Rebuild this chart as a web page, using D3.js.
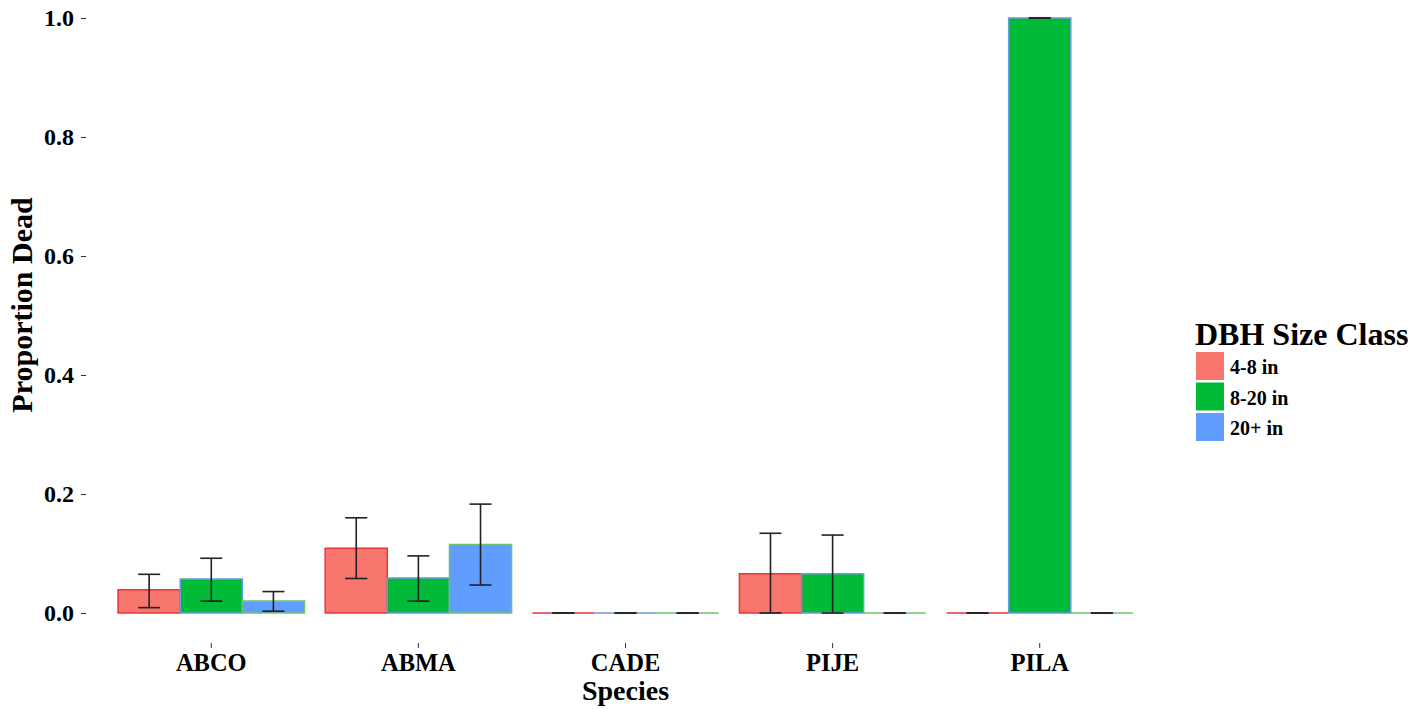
<!DOCTYPE html>
<html>
<head>
<meta charset="utf-8">
<script src="https://cdn.jsdelivr.net/npm/d3@7"></script>
<style>
  html, body { margin: 0; padding: 0; background: #fff; }
  svg { display: block; font-family: "Liberation Serif", "Times New Roman", serif; font-weight: bold; }
</style>
</head>
<body>
<svg id="chart" width="1419" height="709"></svg>
<script>
// ---- data ----
const species = ["ABCO", "ABMA", "CADE", "PIJE", "PILA"];
const sizeClasses = ["4-8 in", "8-20 in", "20+ in"];
const fillColors = ["#F8766D", "#00BA38", "#619CFF"];
const outlineColors = ["#E4373C", "#6B9BE0", "#6CC46F"];
// proportion dead, per size class, in species order
const mean4to8  = [0.039, 0.109, 0.0, 0.066, 0.0];
const mean8to20 = [0.057, 0.059, 0.0, 0.066, 1.0];
const mean20up  = [0.020, 0.115, 0.0, 0.0, 0.0];
const lo4to8  = [0.009, 0.058, 0.0, 0.0, 0.0];
const hi4to8  = [0.065, 0.160, 0.0, 0.134, 0.0];
const lo8to20 = [0.020, 0.020, 0.0, 0.0, 1.0];
const hi8to20 = [0.092, 0.096, 0.0, 0.131, 1.0];
const lo20up  = [0.003, 0.047, 0.0, 0.0, 0.0];
const hi20up  = [0.036, 0.183, 0.0, 0.0, 0.0];
const yTicks = [0.0, 0.2, 0.4, 0.6, 0.8, 1.0];

const means = [mean4to8, mean8to20, mean20up];
const los = [lo4to8, lo8to20, lo20up];
const his = [hi4to8, hi8to20, hi20up];

const rows = [];
species.forEach((sp, i) => {
  sizeClasses.forEach((sc, j) => {
    rows.push({ sp, sc, j, v: means[j][i], lo: los[j][i], hi: his[j][i] });
  });
});

const svg = d3.select("#chart");

const x = d3.scaleBand().domain(species).range([87, 1164])
  .paddingInner(0.1).paddingOuter(0.15);
const xs = d3.scaleBand().domain(sizeClasses).range([0, x.bandwidth()]);
const y = d3.scaleLinear().domain([0, 1]).range([613, 18]);

// bars
const g = svg.append("g");
g.selectAll("rect.bar").data(rows).join("rect")
  .attr("class", "bar")
  .attr("x", d => x(d.sp) + xs(d.sc))
  .attr("y", d => y(d.v))
  .attr("width", xs.bandwidth())
  .attr("height", d => y(0) - y(d.v))
  .attr("fill", d => fillColors[d.j]);
g.selectAll("path.outline").data(rows).join("path")
  .attr("class", "outline")
  .attr("d", d => {
    const x0 = x(d.sp) + xs(d.sc), x1 = x0 + xs.bandwidth();
    const y0 = y(0), y1 = y(d.v);
    return `M${x0},${y0}V${y1}H${x1}V${y0}H${x0}Z`;
  })
  .attr("fill", "none")
  .attr("stroke", d => outlineColors[d.j])
  .attr("stroke-width", 1.5);

// error bars
const capW = 22;
const eb = g.selectAll("g.err").data(rows).join("g").attr("class", "err")
  .attr("stroke", "#222").attr("stroke-width", 1.6);
eb.append("line")
  .attr("x1", d => x(d.sp) + xs(d.sc) + xs.bandwidth() / 2)
  .attr("x2", d => x(d.sp) + xs(d.sc) + xs.bandwidth() / 2)
  .attr("y1", d => y(d.lo)).attr("y2", d => y(d.hi));
eb.append("line")
  .attr("x1", d => x(d.sp) + xs(d.sc) + xs.bandwidth() / 2 - capW / 2)
  .attr("x2", d => x(d.sp) + xs(d.sc) + xs.bandwidth() / 2 + capW / 2)
  .attr("y1", d => y(d.hi)).attr("y2", d => y(d.hi));
eb.append("line")
  .attr("x1", d => x(d.sp) + xs(d.sc) + xs.bandwidth() / 2 - capW / 2)
  .attr("x2", d => x(d.sp) + xs(d.sc) + xs.bandwidth() / 2 + capW / 2)
  .attr("y1", d => y(d.lo)).attr("y2", d => y(d.lo));

// y axis
const yAxis = d3.axisLeft(y).tickValues(yTicks).tickFormat(d3.format(".1f"))
  .tickSize(5).tickPadding(7);
const ya = svg.append("g").attr("transform", "translate(86,0)").call(yAxis);
ya.select(".domain").remove();
ya.selectAll(".tick line").attr("stroke", "#333");
ya.selectAll(".tick text").attr("fill", "#000")
  .style("font-size", "24px").style("font-family", "Liberation Serif, serif").style("font-weight", "bold");

// x axis
const xAxis = d3.axisBottom(x).tickSize(5).tickPadding(6);
const xa = svg.append("g").attr("transform", "translate(0,643)").call(xAxis);
xa.select(".domain").remove();
xa.selectAll(".tick line").attr("stroke", "#333");
xa.selectAll(".tick text").attr("fill", "#000")
  .style("font-size", "24.5px").style("font-family", "Liberation Serif, serif").style("font-weight", "bold");

// axis titles
svg.append("text").attr("x", 625.5).attr("y", 700).attr("text-anchor", "middle")
  .style("font-size", "28px").text("Species");
svg.append("text").attr("transform", "translate(32,305) rotate(-90)").attr("text-anchor", "middle")
  .style("font-size", "30px").text("Proportion Dead");

// legend
const lg = svg.append("g");
lg.append("text").attr("x", 1195).attr("y", 345).style("font-size", "32px").text("DBH Size Class");
const items = lg.selectAll("g.item").data(sizeClasses).join("g").attr("class", "item")
  .attr("transform", (d, i) => `translate(1196,${352 + i * 30.5})`);
items.append("rect").attr("width", 28).attr("height", 28)
  .attr("fill", (d, i) => fillColors[i]);
items.append("text").attr("x", 34).attr("y", 22).style("font-size", "20px").text(d => d);
</script>
</body>
</html>
